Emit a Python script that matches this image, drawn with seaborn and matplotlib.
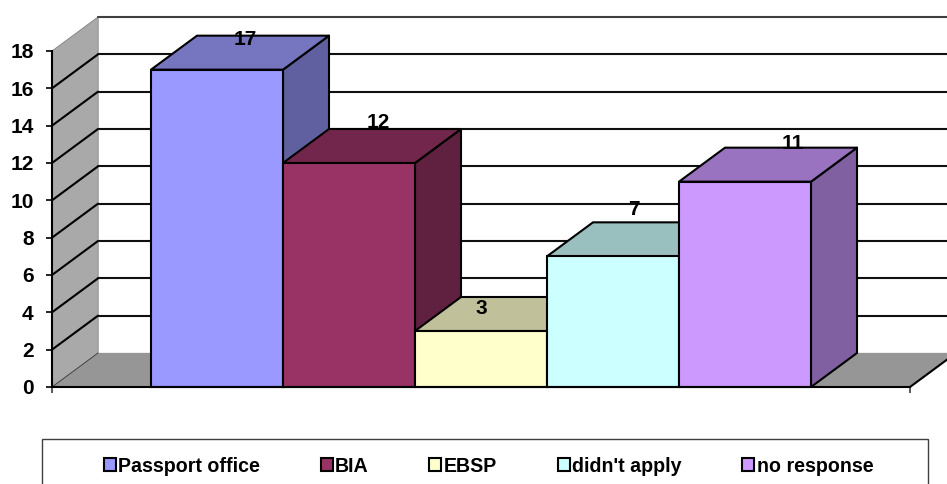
import matplotlib
matplotlib.use("Agg")
import matplotlib.pyplot as plt
from matplotlib.patches import Patch, Polygon, Rectangle
import pandas as pd
import seaborn as sns

sources = ["Passport office", "BIA", "EBSP", "didn't apply", "no response"]
counts = [17, 12, 3, 7, 11]
front_colors = ["#9999FF", "#993366", "#FFFFCC", "#CCFFFF", "#CC99FF"]
top_colors = ["#7676C0", "#73264C", "#C0C09A", "#99BFBF", "#9973BF"]
side_colors = ["#6060A0", "#602040", "#A0A080", "#80A0A0", "#8060A0"]
y_ticks = list(range(0, 19, 2))
label_shift_px = [(28, 30), (29, 40), (0, 23), (21, 47), (48, 38)]

W, H = 947, 484
DPI = 100
LEFT, RIGHT, BASE, TOP18 = 52, 910, 387, 51
BAR_PX = 132
UNIT_PX = (BASE - TOP18) / 18
DEPTH_X = 46 / BAR_PX
DEPTH_Y = 34 / UNIT_PX
EDGE = 1.5

sns.set_theme(style="white")
plt.rcParams["font.family"] = ["Liberation Sans", "DejaVu Sans"]
plt.rcParams["font.weight"] = "bold"

fig = plt.figure(figsize=(W / DPI, H / DPI), dpi=DPI, facecolor="white")
ax = fig.add_axes([LEFT / W, 1 - BASE / H, (RIGHT - LEFT) / W, (BASE - TOP18) / H])

df = pd.DataFrame({"source": sources, "count": counts})
sns.barplot(data=df, x="source", y="count", hue="source", hue_order=sources,
            palette=front_colors, width=1.0, saturation=1, dodge=False,
            legend=False, edgecolor="black", linewidth=EDGE, ax=ax)

x0 = (LEFT - 217) / BAR_PX
x1 = (RIGHT - 217) / BAR_PX
ax.set_xlim(x0, x1)
ax.set_ylim(0, 18)
ax.patch.set_alpha(0)

# Walls and floor of the 3D box
ax.add_patch(Polygon([(x0, 0), (x0 + DEPTH_X, DEPTH_Y), (x0 + DEPTH_X, 18 + DEPTH_Y), (x0, 18)],
                     closed=True, facecolor="#A9A9A9", edgecolor="none", zorder=0.2, clip_on=False))
ax.add_patch(Polygon([(x0, 0), (x1, 0), (x1 + DEPTH_X, DEPTH_Y), (x0 + DEPTH_X, DEPTH_Y)],
                     closed=True, facecolor="#969696", edgecolor="none", zorder=0.3, clip_on=False))
ax.plot([x0 + DEPTH_X] * 2, [DEPTH_Y, 18 + DEPTH_Y], color="#A0A0A0", lw=1.2, zorder=0.4, clip_on=False)
ax.plot([x0 + DEPTH_X, x1 + DEPTH_X], [DEPTH_Y, DEPTH_Y], color="#B0B0B0", lw=1.0, zorder=0.25, clip_on=False)
ax.plot([x1, x1 + DEPTH_X], [0, DEPTH_Y], color="black", lw=EDGE, zorder=0.5, clip_on=False)

# Gridlines run along the side wall, then across the back wall
for v in y_ticks:
    if v == 0:
        ax.plot([x0, x0 + DEPTH_X], [0, DEPTH_Y], color="#303030", lw=0.6, zorder=0.5, clip_on=False)
        continue
    wall_style = dict(color="black", lw=EDGE) if v < 18 else dict(color="#808080", lw=0.6)
    ax.plot([x0, x0 + DEPTH_X], [v, v + DEPTH_Y], zorder=0.5, clip_on=False, **wall_style)
    ax.plot([x0 + DEPTH_X, x1 + DEPTH_X], [v + DEPTH_Y] * 2, color="#101010" if v < 18 else "#404040",
            lw=EDGE, zorder=0.5, clip_on=False)

# Painted left to right so that each bar overlaps its left neighbour
for i, (bar, val) in enumerate(zip(ax.patches, counts)):
    bar.set_zorder(1 + i + 0.3)
    bar.set_clip_on(False)
    l, r = bar.get_x(), bar.get_x() + bar.get_width()
    ax.add_patch(Polygon([(r, 0), (r + DEPTH_X, DEPTH_Y), (r + DEPTH_X, val + DEPTH_Y), (r, val)],
                         closed=True, facecolor=side_colors[i], edgecolor="black", lw=EDGE,
                         zorder=1 + i + 0.1, clip_on=False, joinstyle="round"))
    ax.add_patch(Polygon([(l, val), (r, val), (r + DEPTH_X, val + DEPTH_Y), (l + DEPTH_X, val + DEPTH_Y)],
                         closed=True, facecolor=top_colors[i], edgecolor="black", lw=EDGE,
                         zorder=1 + i + 0.2, clip_on=False, joinstyle="round"))
    dx, dy = label_shift_px[i]
    ax.annotate(str(val), xy=(i, val), xytext=(dx, dy), textcoords="offset pixels",
                ha="center", va="center", fontsize=15, fontweight="bold", color="black",
                zorder=20, annotation_clip=False)

ax.set_xlabel("")
ax.set_ylabel("")
ax.set_xticks([x0, x1], ["", ""])
ax.set_yticks(y_ticks)
ax.tick_params(axis="y", direction="out", length=4.3, width=1.2, color="black", pad=9,
               labelsize=15, labelcolor="black", left=True)
ax.tick_params(axis="x", direction="out", length=4.3, width=1.2, color="#404040", bottom=True)
for lbl in ax.get_yticklabels():
    lbl.set_fontweight("bold")
for name, spine in ax.spines.items():
    spine.set_visible(name in ("left", "bottom"))
    spine.set_color("black")
    spine.set_linewidth(EDGE)
    spine.set_zorder(0.6 if name == "left" else 15)

# Legend strip along the bottom, its box running off the figure
fig.add_artist(Rectangle((42 / W, 1 - 495 / H), (928 - 42) / W, (495 - 439) / H,
                         transform=fig.transFigure, facecolor="none", edgecolor="#404040", lw=1.0))
handles = [Patch(facecolor=c, edgecolor="black", lw=EDGE, label=s) for c, s in zip(front_colors, sources)]
ax.legend(handles=handles, ncol=5, loc="center", bbox_to_anchor=(488.5 / W, 1 - 466 / H),
          bbox_transform=fig.transFigure, frameon=False, labelcolor="black",
          prop={"weight": "bold", "size": 14.1}, handlelength=0.62, handleheight=0.62,
          handletextpad=0.12, columnspacing=3.09, borderpad=0, borderaxespad=0)

fig.savefig("out.png", dpi=DPI)
